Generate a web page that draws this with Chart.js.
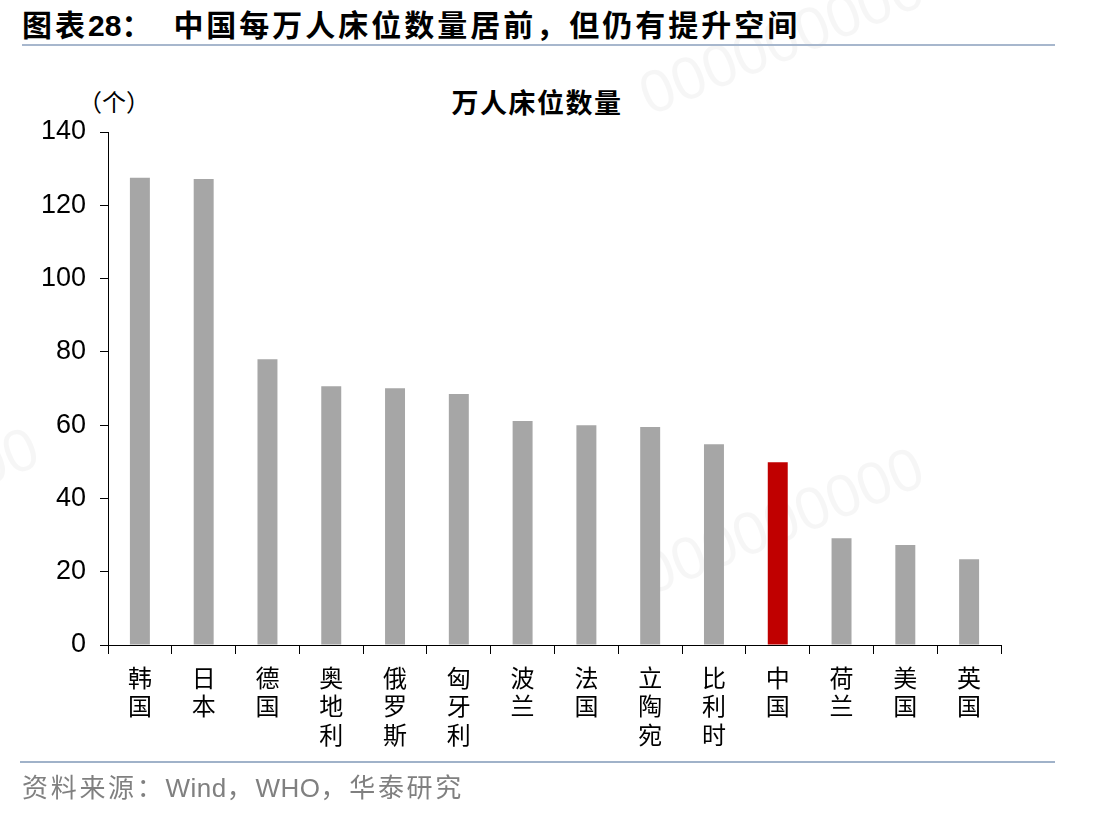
<!DOCTYPE html>
<html>
<head>
  <meta charset="utf-8">
  <title>万人床位数量</title>
  <style>
    body { margin: 0; background: #fff; width: 1112px; height: 816px; overflow: hidden; position: relative; font-family: "Noto Sans CJK SC", sans-serif; }
    #chart { position: absolute; left: 0; top: 0; }
    .txt { position: absolute; white-space: nowrap; }
    #title { left: 22px; top: 1px; font-size: 30px; font-weight: bold; color: #000; letter-spacing: 3px; }
    #title .num { font-family: "Liberation Sans", Arial, sans-serif; letter-spacing: 0; }
    #title .gap { display: inline-block; width: 19px; }
    #topline { position: absolute; left: 22px; top: 44px; width: 1033px; height: 2px; background: #a7b7cd; }
    #ctitle { left: 0; width: 1074px; text-align: center; top: 82px; font-size: 27px; font-weight: bold; letter-spacing: 1.5px; }
    #unit { left: 78px; top: 83px; font-size: 24px; }
    #botline { position: absolute; left: 20px; top: 761px; width: 1035px; height: 2px; background: #a0b2c9; }
    #source { left: 22px; top: 767px; font-size: 26px; color: #808080; letter-spacing: 2.7px; }
    #source .lat { font-family: "Liberation Sans", Arial, sans-serif; letter-spacing: 0.5px; }
    .wm { position: absolute; font-family: "Liberation Sans", sans-serif; font-size: 60px; color: rgba(0,0,0,0.035); transform: rotate(-22deg); transform-origin: left bottom; }
  </style>
</head>
<body>
  <div class="wm" style="left:655px; top:60px;">000000000</div>
  <div class="wm" style="left:655px; top:540px;">000000000</div>
  <div class="wm" style="left:-230px; top:520px;">000000000</div>

  <div id="title" class="txt">图表<span class="num">28</span>：<span class="gap"></span>中国每万人床位数量居前，但仍有提升空间</div>
  <div id="topline"></div>
  <div id="unit" class="txt">（个）</div>
  <div id="ctitle" class="txt">万人床位数量</div>
  <canvas id="chart" width="1112" height="816"></canvas>
  <div id="botline"></div>
  <div id="source" class="txt">资料来源：<span class="lat">Wind</span>，<span class="lat">WHO</span>，华泰研究</div>

  <script src="https://cdn.jsdelivr.net/npm/chart.js@4.4.0/dist/chart.umd.min.js"></script>
  <script>
    // 每万人床位数量（个）
    var countries = ['韩国', '日本', '德国', '奥地利', '俄罗斯', '匈牙利', '波兰', '法国', '立陶宛', '比利时', '中国', '荷兰', '美国', '英国'];
    var beds = [127.5, 127.2, 78.0, 70.6, 70.1, 68.5, 61.1, 60.0, 59.5, 54.8, 49.9, 29.1, 27.3, 23.4];
    var yTicks = [0, 20, 40, 60, 80, 100, 120, 140];
    var highlight = '中国';

    var ctx = document.getElementById('chart').getContext('2d');
    var chart = new Chart(ctx, {
      type: 'bar',
      data: {
        labels: countries.map(function (c) { return c.split(''); }), // 竖排
        datasets: [{
          data: beds,
          backgroundColor: countries.map(function (c) { return c === highlight ? '#c00000' : '#a6a6a6'; }),
          borderWidth: 0,
          categoryPercentage: 1,
          barPercentage: 0.313
        }]
      },
      options: {
        responsive: false,
        animation: false,
        devicePixelRatio: 1,
        layout: { padding: { left: 0, top: 132, right: 111, bottom: 0 } },
        plugins: {
          legend: { display: false },
          tooltip: { enabled: false }
        },
        scales: {
          x: {
            grid: { offset: true, drawOnChartArea: false, tickLength: 9, color: '#000', lineWidth: 1 },
            border: { color: '#000', width: 1 },
            ticks: {
              color: '#000',
              maxRotation: 0,
              autoSkip: false,
              padding: 9,
              font: { family: '"Noto Sans CJK SC"', size: 24, lineHeight: 1.2 }
            },
            afterFit: function (s) { s.height = 171; }
          },
          y: {
            min: 0,
            max: 140,
            afterBuildTicks: function (s) { s.ticks = yTicks.map(function (v) { return { value: v }; }); },
            grid: { drawOnChartArea: false, tickLength: 8, color: '#000', lineWidth: 1 },
            border: { color: '#000', width: 1 },
            ticks: {
              color: '#000',
              padding: 14,
              font: { family: '"Liberation Sans", Arial', size: 27 }
            },
            afterFit: function (s) { s.width = 108; }
          }
        }
      }
    });
  </script>
</body>
</html>
